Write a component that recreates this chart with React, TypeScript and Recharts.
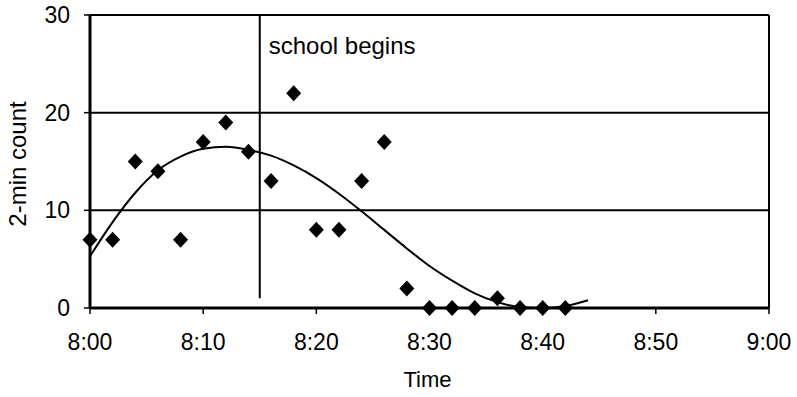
import { ComposedChart, Scatter, Line, XAxis, YAxis, CartesianGrid, ReferenceLine } from 'recharts'

// minutes after 8:00, 2-minute counts
const minutes = [0, 2, 4, 6, 8, 10, 12, 14, 16, 18, 20, 22, 24, 26, 28, 30, 32, 34, 36, 38, 40, 42]
const counts = [7, 7, 15, 14, 7, 17, 19, 16, 13, 22, 8, 8, 13, 17, 2, 0, 0, 0, 1, 0, 0, 0]

// fitted trend curve
const fitMinutes = [0, 2, 4, 6, 8, 10, 12, 14, 16, 18, 20, 22, 24, 26, 28, 30, 32, 34, 36, 38, 40, 42, 44]
const fitValues = [5.3, 8.8, 11.8, 14.1, 15.5, 16.3, 16.5, 16.2, 15.6, 14.6, 13.3, 11.7, 9.9, 8.0, 6.1, 4.3, 2.8, 1.5, 0.6, 0.1, 0.0, 0.2, 0.8]

const timeTicks = [0, 10, 20, 30, 40, 50, 60]
const timeLabels = ['8:00', '8:10', '8:20', '8:30', '8:40', '8:50', '9:00']
const countTicks = [0, 10, 20, 30]

const schoolStart = 15

const points = minutes.map((t, i) => ({ t, count: counts[i] }))
const fit = fitMinutes.map((t, i) => ({ t, fit: fitValues[i] }))

const font = '"Liberation Sans", Arial, sans-serif'
const tickStyle = { fontSize: 23, fill: '#000', fontFamily: font }

const Diamond = (props: any) => {
  const { cx, cy } = props
  if (cx == null || cy == null) return null
  return <polygon points={`${cx},${cy - 8} ${cx + 7.5},${cy} ${cx},${cy + 8} ${cx - 7.5},${cy}`} fill="#000" />
}

export default function App() {
  return (
    <div style={{ position: 'absolute', left: 0, top: 0, background: '#fff' }}>
      <ComposedChart width={797} height={397} margin={{ top: 15, right: 28, bottom: 0, left: 0 }}>
        <CartesianGrid horizontal vertical={false} stroke="#000" strokeWidth={2} />
        <XAxis
          type="number"
          dataKey="t"
          domain={[0, 60]}
          ticks={timeTicks}
          tickFormatter={(v: number) => timeLabels[timeTicks.indexOf(v)]}
          tick={tickStyle}
          tickSize={6}
          tickMargin={20}
          axisLine={{ stroke: '#000', strokeWidth: 3 }}
          tickLine={{ stroke: '#000', strokeWidth: 1.5 }}
          height={89}
          allowDuplicatedCategory={false}
          label={(p: any) => {
            const vb = p.viewBox || { x: 90, width: 679 }
            return (
              <text x={vb.x + vb.width / 2 - 2} y={387} textAnchor="middle" fontSize={22} fontFamily={font} fill="#000">
                Time
              </text>
            )
          }}
        />
        <YAxis
          type="number"
          domain={[0, 30]}
          ticks={countTicks}
          tick={tickStyle}
          tickSize={6}
          tickMargin={14}
          width={90}
          axisLine={{ stroke: '#000', strokeWidth: 3 }}
          tickLine={{ stroke: '#000', strokeWidth: 1.5 }}
          label={() => (
            <text x={17} y={164} transform="rotate(-90 17 164)" textAnchor="middle" dominantBaseline="central" fontSize={24} fontFamily={font} fill="#000">
              2-min count
            </text>
          )}
        />
        <ReferenceLine x={60} stroke="#000" strokeWidth={2} />
        <ReferenceLine
          segment={[{ x: schoolStart, y: 1 }, { x: schoolStart, y: 30 }]}
          stroke="#000"
          strokeWidth={2}
          label={(p: any) => {
            const x = p.viewBox && p.viewBox.x != null ? p.viewBox.x : 260
            return (
              <text x={x + 9} y={54} fontSize={24} fontFamily={font} fill="#000">
                school begins
              </text>
            )
          }}
        />
        <Line data={fit} dataKey="fit" type="monotone" stroke="#000" strokeWidth={2} dot={false} activeDot={false} isAnimationActive={false} />
        <Scatter data={points} dataKey="count" shape={<Diamond />} isAnimationActive={false} />
      </ComposedChart>
    </div>
  )
}
